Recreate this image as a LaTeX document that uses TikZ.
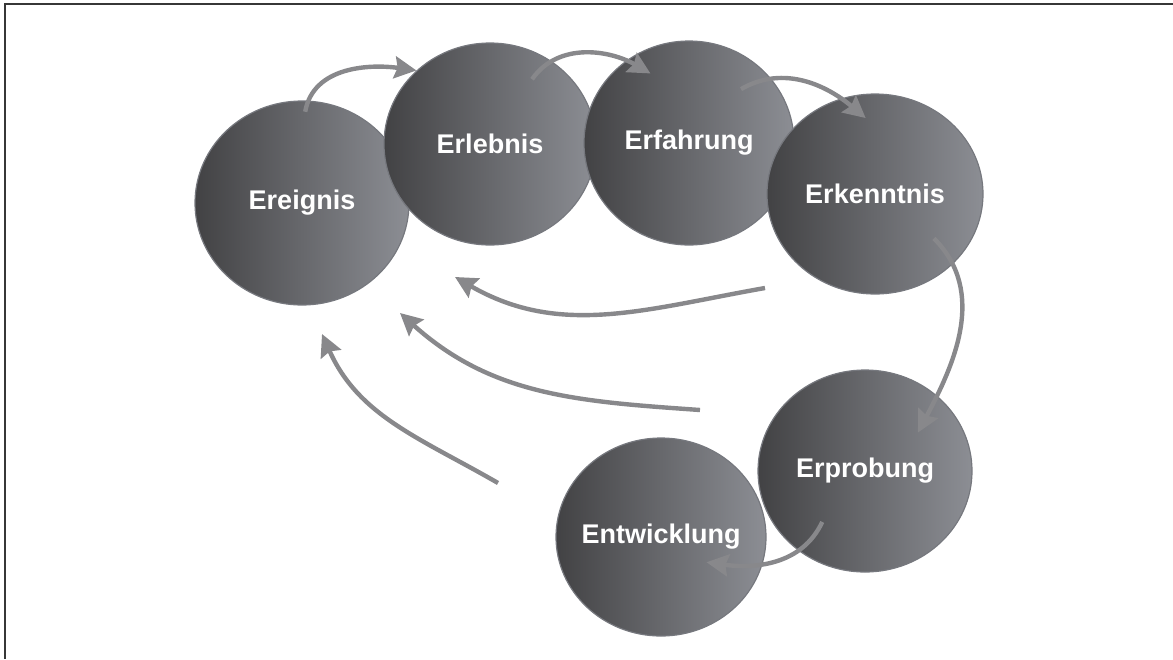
\documentclass[tikz,border=0pt]{standalone}
\usepackage{fontspec}
\usepackage{tikz}
\usetikzlibrary{arrows.meta,shapes.geometric,calc}
\newfontfamily\ballfont{Liberation Sans}
\definecolor{balldark}{RGB}{66,66,68}
\definecolor{ballmid}{RGB}{94,94,97}
\definecolor{balllight}{RGB}{140,142,148}
\definecolor{balledge}{RGB}{118,120,126}
\definecolor{arrowgray}{RGB}{136,136,139}
\definecolor{framegray}{RGB}{55,55,55}
\tikzstyle{ball} = [ellipse, inner sep=0pt, draw=balledge, line width=0.6pt, left color=balldark, middle color=ballmid, right color=balllight]
\tikzstyle{balltext} = [text=white, font=\ballfont\bfseries\fontsize{13.5}{16}\selectfont]
\tikzstyle{arrow} = [line width=2.2pt, ->, >={Stealth[length=11pt,width=11pt,inset=1.5pt]}, color=arrowgray]
\tikzstyle{frameline} = [line width=1pt, color=framegray]

\begin{document}
\begin{tikzpicture}[x=0.5pt, y=0.5pt]
\useasboundingbox (0,0) rectangle (1173,-659);
\draw[frameline] (4,-3.5) -- (1173,-3.5);
\draw[frameline] (5,-3) -- (5,-659);

% the six balls
\node (ereignis) [ball, minimum width=107pt, minimum height=102pt, label={[balltext]center:Ereignis}] at (302,-203) {};
\node (erlebnis) [ball, minimum width=106pt, minimum height=101pt, label={[balltext]center:Erlebnis}] at (490,-144) {};
\node (erfahrung) [ball, minimum width=105pt, minimum height=102pt, label={[balltext]center:Erfahrung}] at (689,-143) {};
\node (erkenntnis) [ball, minimum width=108pt, minimum height=100pt, label={[balltext]center:Erkenntnis}] at (875,-194) {};
\node (erprobung) [ball, minimum width=107pt, minimum height=101pt, label={[balltext]center:Erprobung}] at (865,-471) {};
\node (entwicklung) [ball, minimum width=105pt, minimum height=99pt, label={[balltext]center:Entwicklung}] at (661,-537) {};

% forward arrows
\draw[arrow] ($(ereignis.center)!.89!(ereignis.88)$) to[out=80, in=172] (erlebnis.135);
\draw[arrow] ($(erlebnis.center)!.75!(erlebnis.57)$) to[out=55, in=150] ($(erfahrung.center)!.77!(erfahrung.119)$);
\draw[arrow] ($(erfahrung.center)!.72!(erfahrung.46)$) to[out=30, in=140] ($(erkenntnis.center)!.76!(erkenntnis.97)$);
\draw[arrow] ($(erkenntnis.center)!.7!(erkenntnis.-37)$) to[out=-45, in=62] ($(erprobung.center)!.62!(erprobung.36)$);
\draw[arrow] ($(erprobung.center)!.64!(erprobung.230)$) to[out=-115, in=-8] ($(entwicklung.center)!.5!(entwicklung.-29)$);

% return arrows
\coordinate (backA1) at (765,-288);
\coordinate (backA2) at (455,-277);
\coordinate (backB1) at (700,-410);
\coordinate (backB2) at (400,-313);
\coordinate (backC1) at (498,-483);
\coordinate (backC2) at (322,-334);
\draw[arrow] (backA1) to[out=190, in=-30] (backA2);
\draw[arrow] (backB1) to[out=176, in=-42] (backB2);
\draw[arrow] (backC1) to[out=150, in=-66] (backC2);
\end{tikzpicture}
\end{document}
